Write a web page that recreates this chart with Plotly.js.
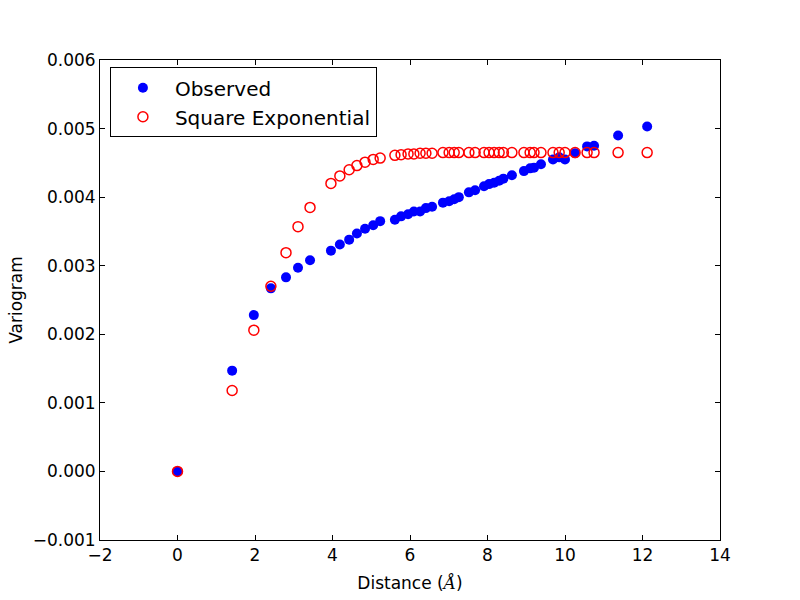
<!DOCTYPE html>
<html>
<head>
<meta charset="utf-8">
<script src="https://cdn.plot.ly/plotly-3.0.1.min.js"></script>
<style>html,body{margin:0;padding:0;background:#fff;}#chart{width:800px;height:600px;}</style>
</head>
<body>
<div id="chart"></div>
<script>
const distance = [0, 1.41, 1.97, 2.41, 2.80, 3.11, 3.42, 3.96, 4.19, 4.43, 4.63, 4.84, 5.05, 5.23,
  5.61, 5.77, 5.95, 6.10, 6.26, 6.41, 6.57, 6.85, 7.01, 7.14, 7.26, 7.52, 7.68, 7.91, 8.04, 8.17,
  8.30, 8.41, 8.63, 8.94, 9.10, 9.20, 9.38, 9.69, 9.85, 10.00, 10.26, 10.57, 10.75, 11.37, 12.12];
const observed = [0, 0.00147, 0.00228, 0.00267, 0.00283, 0.00297, 0.00308, 0.00322, 0.00331, 0.00338,
  0.00347, 0.00354, 0.00359, 0.00365, 0.00367, 0.00372, 0.00375, 0.00379, 0.00379, 0.00384, 0.00386,
  0.00392, 0.00394, 0.00397, 0.00400, 0.00407, 0.00410, 0.00416, 0.00419, 0.00421, 0.00424, 0.00427,
  0.00432, 0.00438, 0.00442, 0.00443, 0.00448, 0.00455, 0.00458, 0.00455, 0.00464, 0.00474, 0.00475,
  0.00490, 0.00503];
const squareExp = [0, 0.00118, 0.00206, 0.00270, 0.00319, 0.00357, 0.00385, 0.00420, 0.00431, 0.00440,
  0.00446, 0.00451, 0.00455, 0.00457, 0.00461, 0.00462, 0.00463, 0.00463, 0.00464, 0.00464, 0.00464,
  0.00465, 0.00465, 0.00465, 0.00465, 0.00465, 0.00465, 0.00465, 0.00465, 0.00465, 0.00465, 0.00465,
  0.00465, 0.00465, 0.00465, 0.00465, 0.00465, 0.00465, 0.00465, 0.00465, 0.00465, 0.00465, 0.00465,
  0.00465, 0.00465];
const seriesNames = ["Observed", "Square Exponential"];

const font = "DejaVu Sans, sans-serif";
const traces = [
  {x: distance, y: observed, name: seriesNames[0], type: "scatter", mode: "markers",
   marker: {color: "#0000ff", size: 10, symbol: "circle", line: {width: 0}}},
  {x: distance, y: squareExp, name: seriesNames[1], type: "scatter", mode: "markers",
   marker: {color: "#ff0000", size: 10, symbol: "circle-open", line: {width: 1.5, color: "#ff0000"}}}
];
const axisCommon = {
  showgrid: false, zeroline: false, showline: true, linecolor: "#000", linewidth: 1,
  mirror: "ticks", ticks: "inside", ticklen: 5, tickwidth: 1, tickcolor: "#000",
  tickfont: {family: font, size: 17, color: "#000"}
};
const layout = {
  width: 800, height: 600,
  margin: {l: 100, r: 80, t: 60, b: 60},
  paper_bgcolor: "#fff", plot_bgcolor: "#fff",
  font: {family: font, color: "#000"},
  xaxis: Object.assign({}, axisCommon, {
    range: [-2, 14], dtick: 2, tick0: 0,
    title: {text: 'Distance (<span style="font-family:DejaVu Serif"><i>Å</i></span>)', font: {family: font, size: 17}, standoff: 12}
  }),
  yaxis: Object.assign({}, axisCommon, {
    range: [-0.001, 0.006], dtick: 0.001, tick0: 0, tickformat: ".3f",
    title: {text: "Variogram", font: {family: font, size: 17}, standoff: 5}
  }),
  showlegend: true,
  legend: {
    x: 0.016, y: 0.985, xanchor: "left", yanchor: "top",
    bordercolor: "#000", borderwidth: 1, bgcolor: "#fff",
    font: {family: font, size: 20, color: "#000"},
    itemwidth: 54, tracegroupgap: 0
  }
};
Plotly.newPlot("chart", traces, layout, {displayModeBar: false, staticPlot: true});
</script>
</body>
</html>
